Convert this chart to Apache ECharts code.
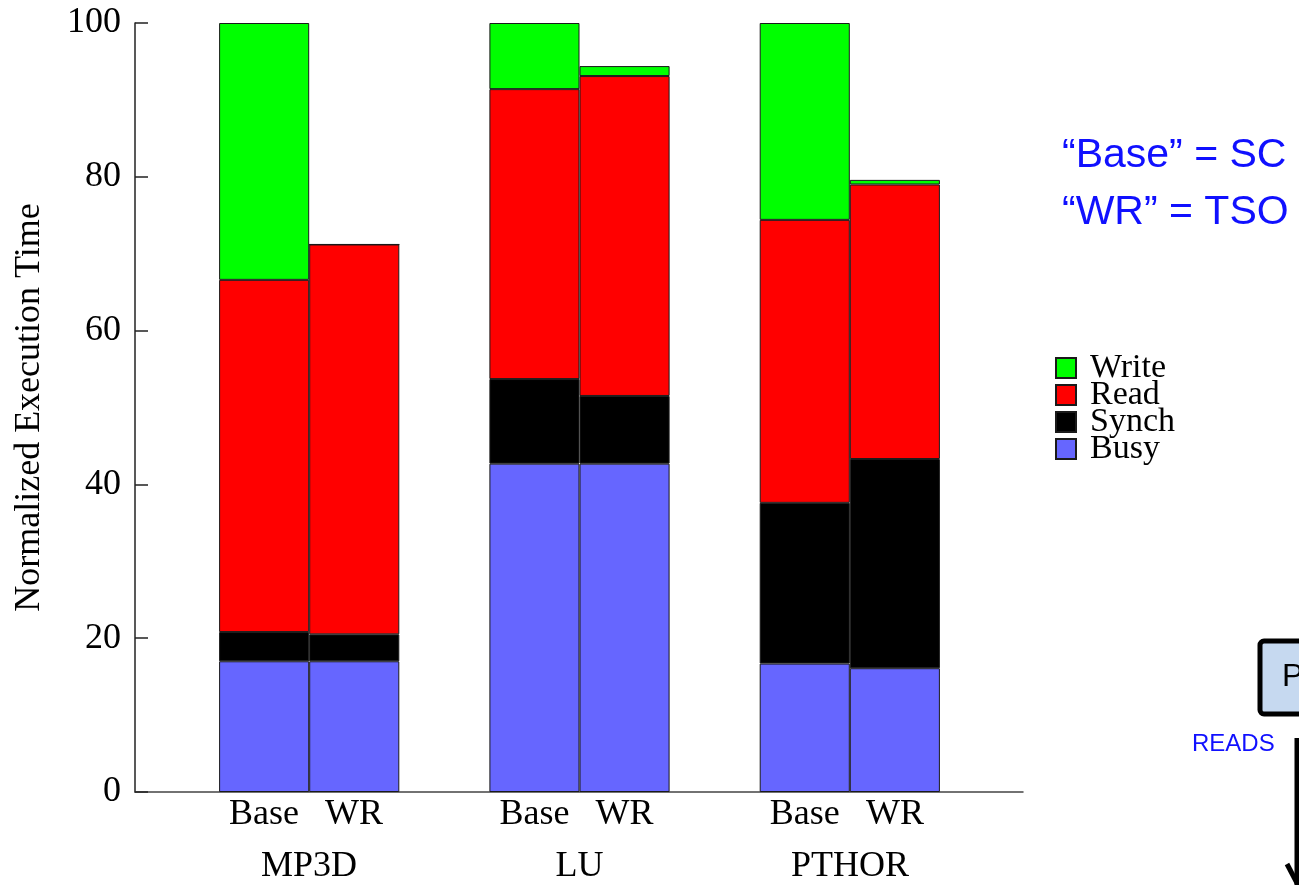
<!DOCTYPE html>
<html>
<head>
<meta charset="utf-8">
<script src="https://cdn.jsdelivr.net/npm/echarts@6/dist/echarts.min.js"></script>
<style>
  html, body { margin: 0; padding: 0; background: #fff; }
  #main { width: 1299px; height: 885px; }
</style>
</head>
<body>
<div id="main"></div>
<script>
// benchmarks and the two configurations per benchmark
var groups = ['MP3D', 'LU', 'PTHOR'];
var configs = ['Base', 'WR'];
var yTicks = [0, 20, 40, 60, 80, 100];

// segment heights, order: MP3D Base, MP3D WR, LU Base, LU WR, PTHOR Base, PTHOR WR
var busy  = [17.0, 17.0, 42.7, 42.7, 16.7, 16.1];
var synch = [3.8, 3.5, 11.0, 8.8, 20.9, 27.2];
var read  = [45.8, 50.7, 37.7, 41.6, 36.8, 35.7];
var write = [33.4, 0, 8.6, 1.3, 25.6, 0.6];

var serif = 'Liberation Serif';

// slot layout: one empty slot before each group and one after the last
var cats = [];
var slotOf = [];
var barPos = [];   // slot centre of each bar (for the Base / WR labels)
var barLabel = [];
var groupPos = []; // boundary between the two bars of a group
groups.forEach(function (g, gi) {
  cats.push('gap' + gi);
  groupPos.push(cats.length + configs.length / 2);
  configs.forEach(function (c) {
    slotOf.push(cats.length);
    barPos.push(cats.length + 0.5);
    barLabel.push(c);
    cats.push(g + ' ' + c);
  });
});
cats.push('gapEnd');

function toSlots(vals) {
  var out = cats.map(function () { return '-'; });
  vals.forEach(function (v, i) { out[slotOf[i]] = v; });
  return out;
}

var myChart = echarts.init(document.getElementById('main'));

function bar(name, vals, color) {
  return {
    name: name,
    type: 'bar',
    stack: 'total',
    xAxisIndex: 2,
    yAxisIndex: 1,
    barWidth: '100%',
    data: toSlots(vals),
    itemStyle: { color: color, borderColor: '#1a1a1a', borderWidth: 1 },
    emphasis: { disabled: true }
  };
}

var option = {
  animation: false,
  backgroundColor: '#fff',
  grid: [
    { left: 135, right: 276, top: 23, bottom: 93 },  // visible axes
    { left: 129, right: 269, top: 23, bottom: 93 }   // bars
  ],
  legend: {
    orient: 'vertical',
    left: 1050,
    top: 346,
    itemWidth: 20,
    itemHeight: 20,
    itemGap: -7,
    icon: 'rect',
    data: ['Write', 'Read', 'Synch', 'Busy'],
    textStyle: { fontFamily: serif, fontSize: 34, color: '#000', padding: [0, 0, 0, 9] },
    selectedMode: false
  },
  xAxis: [{
    gridIndex: 0,
    type: 'value',
    min: 0.07,
    max: cats.length - 0.08,
    axisLine: { show: true, onZero: false, lineStyle: { color: '#444', width: 1.5 } },
    axisTick: { show: false },
    splitLine: { show: false },
    axisLabel: {
      customValues: barPos,
      margin: 5,
      fontFamily: serif,
      fontSize: 36,
      color: '#000',
      formatter: function (v) { return barLabel[barPos.indexOf(v)] || ''; }
    }
  }, {
    gridIndex: 0,
    type: 'value',
    position: 'bottom',
    min: 0.07,
    max: cats.length - 0.08,
    axisLine: { show: false },
    axisTick: { show: false },
    splitLine: { show: false },
    axisLabel: {
      customValues: groupPos,
      margin: 57,
      fontFamily: serif,
      fontSize: 36,
      color: '#000',
      formatter: function (v) { return groups[groupPos.indexOf(v)] || ''; }
    }
  }, {
    gridIndex: 1,
    type: 'category',
    data: cats,
    show: false
  }],
  yAxis: [{
    gridIndex: 0,
    type: 'value',
    min: 0,
    max: 100,
    interval: 20,
    name: 'Normalized Execution Time',
    nameLocation: 'middle',
    nameGap: 87,
    nameTextStyle: { fontFamily: serif, fontSize: 36, color: '#000' },
    axisLine: { show: true, lineStyle: { color: '#222', width: 1.5 } },
    axisTick: { show: true, inside: true, length: 13, lineStyle: { color: '#222', width: 1.5 } },
    splitLine: { show: false },
    axisLabel: {
      margin: 14,
      fontFamily: serif,
      fontSize: 36,
      color: '#000',
      customValues: yTicks
    }
  }, {
    gridIndex: 1,
    type: 'value',
    min: 0,
    max: 100,
    show: false
  }],
  series: [
    bar('Busy', busy, '#6666ff'),
    bar('Synch', synch, '#000000'),
    bar('Read', read, '#ff0000'),
    bar('Write', write, '#00ff00')
  ],
  graphic: [
    { type: 'text', left: 1062, top: 135, style: { text: '\u201CBase\u201D = SC', fill: '#1010ff', font: '41px "Liberation Sans"' } },
    { type: 'text', left: 1062, top: 192, style: { text: '\u201CWR\u201D = TSO', fill: '#1010ff', font: '41px "Liberation Sans"' } },
    { type: 'rect', shape: { x: 1260, y: 641, width: 60, height: 73, r: 4 }, style: { fill: '#c6d9f0', stroke: '#000', lineWidth: 5 } },
    { type: 'text', left: 1282, top: 661, style: { text: 'P', fill: '#000', font: '32px "Liberation Sans"' } },
    { type: 'text', left: 1192, top: 732, style: { text: 'READS', fill: '#1010ff', font: '24px "Liberation Sans"' } },
    { type: 'line', shape: { x1: 1297, y1: 738, x2: 1297, y2: 885 }, style: { stroke: '#000', lineWidth: 5 } },
    { type: 'line', shape: { x1: 1287, y1: 864, x2: 1297, y2: 883 }, style: { stroke: '#000', lineWidth: 5 } }
  ]
};

myChart.setOption(option);
</script>
</body>
</html>
